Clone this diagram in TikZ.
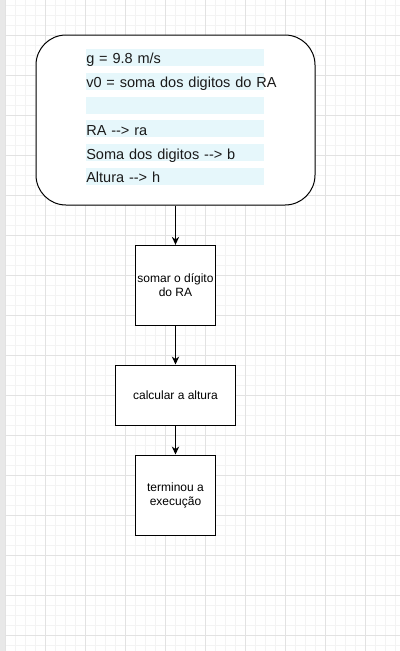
\documentclass[tikz,border=0pt]{standalone}
\usepackage{fontspec}
\setmainfont{Liberation Sans}
\usetikzlibrary{arrows.meta}
\definecolor{barfill}{HTML}{E6F7FB}
\definecolor{gmaj}{HTML}{E2E2E2}
\definecolor{gmin}{HTML}{F3F3F3}
\definecolor{edge}{HTML}{E8E8E8}
\definecolor{txt}{HTML}{1A1A1A}
\begin{document}
\begin{tikzpicture}[x=0.75pt,y=-0.75pt,
  infobox/.style={draw=black, line width=0.75pt, fill=white, rounded corners=22.5pt,
    minimum width=209.25pt, minimum height=127.5pt, inner sep=0pt},
  barrow/.style={fill=barfill, text=txt, inner sep=0pt, text height=11.25pt, text depth=1.5pt,
    text width=133.5pt, align=left, anchor=west, font=\fontsize{10.9}{12}\selectfont},
  stepbox/.style={draw=black, line width=0.75pt, fill=white, align=center, inner sep=0pt,
    font=\fontsize{9}{10.5}\selectfont},
  flow/.style={draw=black, line width=0.75pt, -{Stealth[length=6pt,width=5.5pt]}}]
\useasboundingbox (0,0) rectangle (400,651);
\fill[white] (0,0) rectangle (400,651);
% grid
\foreach \x in {15,25,...,395} \draw[gmin, line width=0.75pt] (\x,0) -- (\x,651);
\foreach \y in {5,15,...,645} \draw[gmin, line width=0.75pt] (5,\y) -- (400,\y);
\foreach \x in {5,45,...,365} \draw[gmaj, line width=0.75pt] (\x,0) -- (\x,651);
\foreach \y in {35,75,...,635} \draw[gmaj, line width=0.75pt] (5,\y) -- (400,\y);
\fill[edge] (0,0) rectangle (4.5,651);
% info box
\node[infobox] (info) at (175.5,120) {};
\node[barrow] (r1) at (86,57.3) {\mbox{g = 9.8 m/s}};
\node[barrow] (r2) at (86,81.3) {\mbox{v0 = soma dos digitos do RA}};
\node[barrow] (r3) at (86,105.3) {};
\node[barrow] (r4) at (86,128.8) {\mbox{RA -{}-{}> ra}};
\node[barrow] (r5) at (86,152.5) {\mbox{Soma dos digitos -{}-{}> b}};
\node[barrow] (r6) at (86,176.3) {\mbox{Altura -{}-{}> h}};
% steps
\node[stepbox, minimum width=60pt, minimum height=60pt] (s1) at (175.5,285.3) {somar o dígito\\do RA};
\node[stepbox, minimum width=90pt, minimum height=45pt] (s2) at (175.5,395) {calcular a altura};
\node[stepbox, minimum width=60pt, minimum height=60pt] (s3) at (175.5,495) {terminou a\\execução};
\draw[flow] (info.south) -- (s1.north);
\draw[flow] (s1.south) -- (s2.north);
\draw[flow] (s2.south) -- (s3.north);
\end{tikzpicture}
\end{document}
